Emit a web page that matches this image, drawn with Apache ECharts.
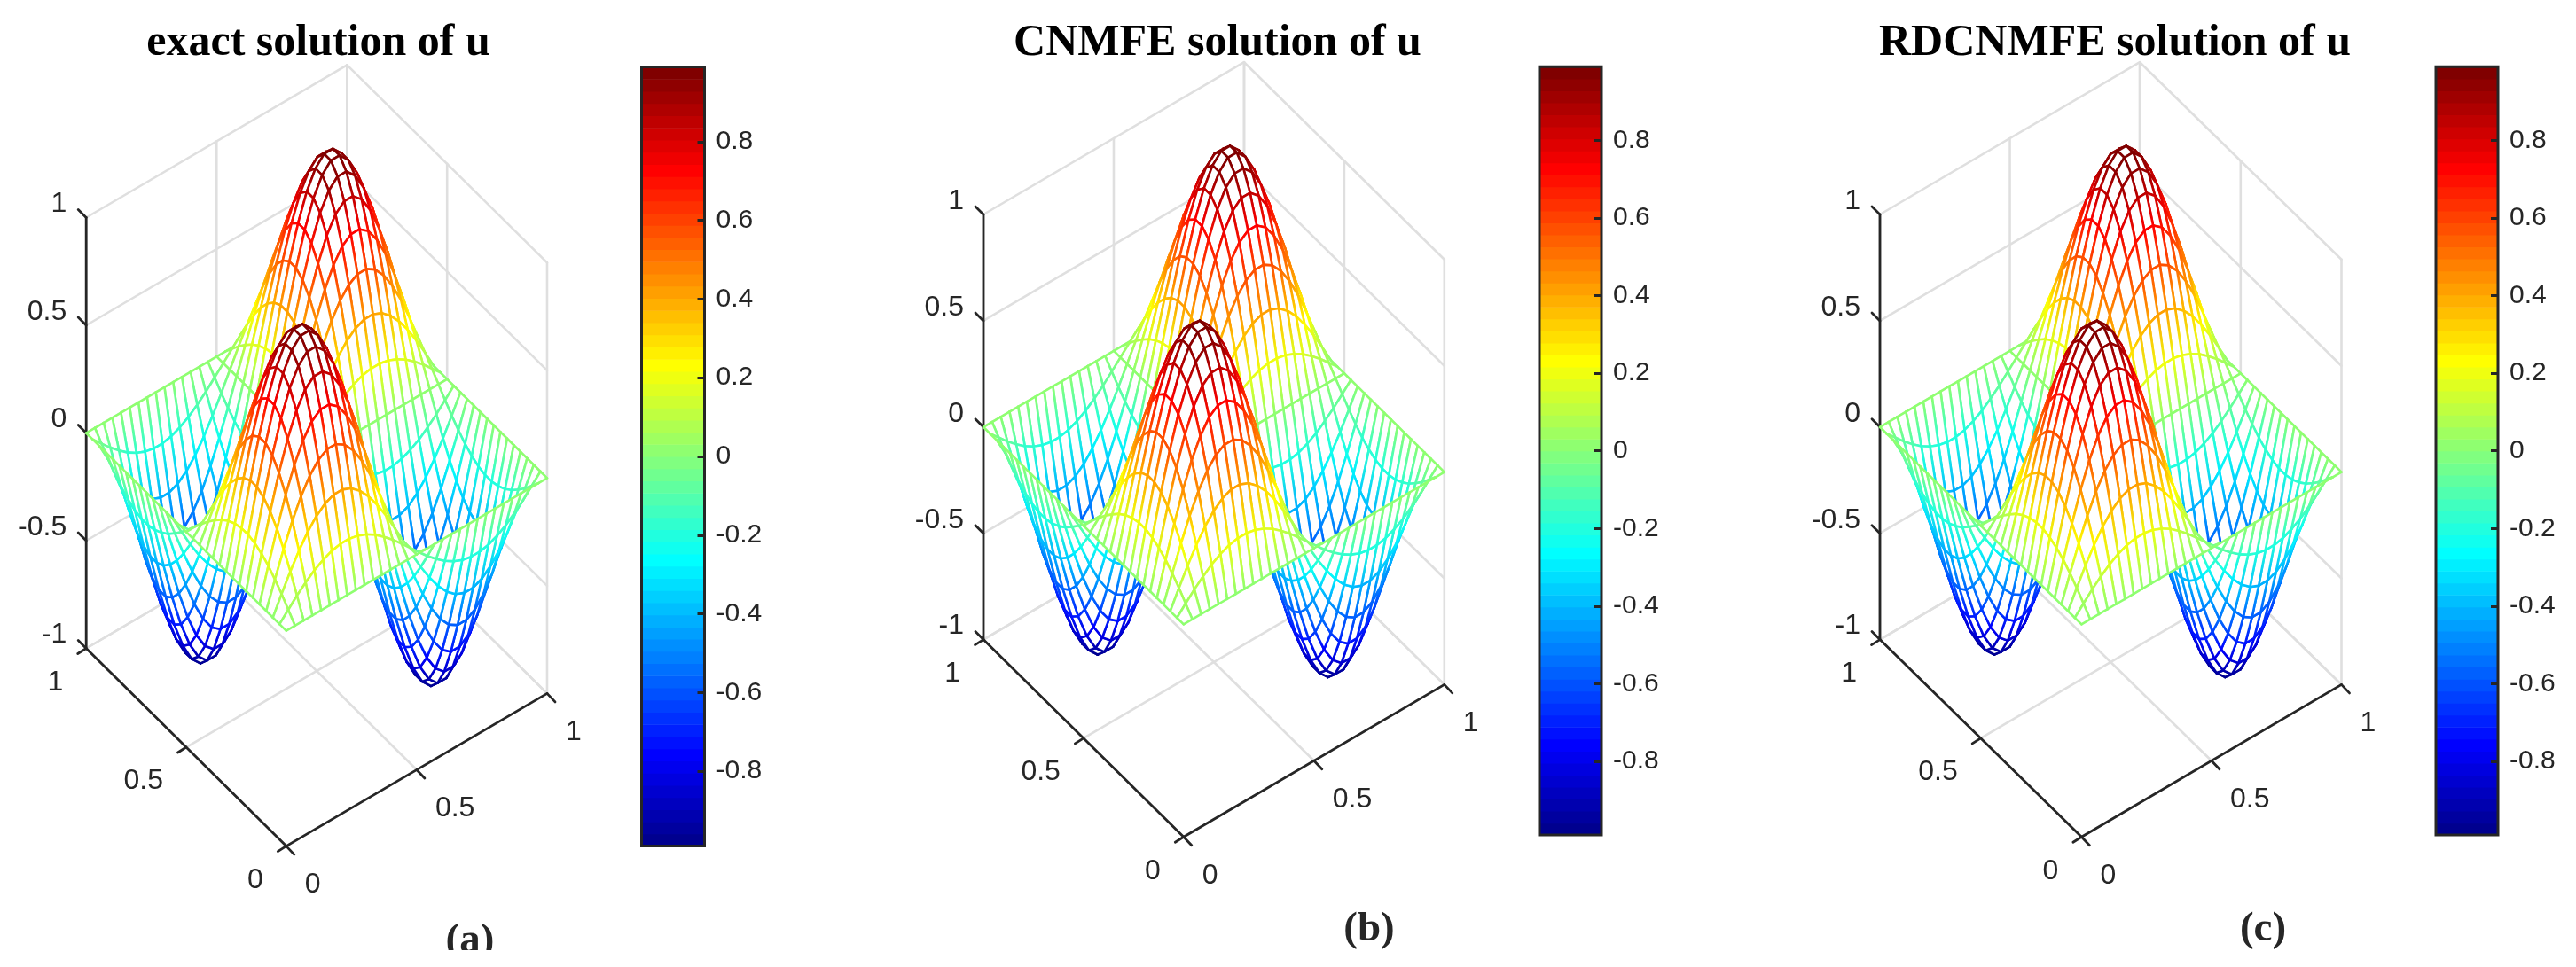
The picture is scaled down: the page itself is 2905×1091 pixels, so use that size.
<!DOCTYPE html>
<html><head><meta charset="utf-8">
<style>html,body{margin:0;padding:0;background:#fff}#c{width:2905px;height:1091px}</style>
<script src="https://cdn.jsdelivr.net/npm/echarts@6/dist/echarts.min.js"></script>
</head><body><div id="c"></div>
<script>
// ---- data ----
const meshX = [0,.0333,.0667,.1,.1333,.1667,.2,.2333,.2667,.3,.3333,.3667,.4,.4333,.4667,.5,.5333,.5667,.6,.6333,.6667,.7,.7333,.7667,.8,.8333,.8667,.9,.9333,.9667,1];
const meshY = meshX;
const r0 = [0,0,0,0,0,0,0,0,0,0,0,0,0,0,0,0,0,0,0,0,0,0,0,0,0,0,0,0,0,0,0];
const r1 = [0,.043,.085,.122,.155,.18,.198,.207,.207,.198,.18,.155,.122,.085,.043,0,-.043,-.085,-.122,-.155,-.18,-.198,-.207,-.207,-.198,-.18,-.155,-.122,-.085,-.043,0];
const r2 = [0,.085,.166,.239,.302,.352,.387,.405,.405,.387,.352,.302,.239,.166,.085,0,-.085,-.166,-.239,-.302,-.352,-.387,-.405,-.405,-.387,-.352,-.302,-.239,-.166,-.085,0];
const r3 = [0,.122,.239,.346,.437,.509,.559,.585,.585,.559,.509,.437,.346,.239,.122,0,-.122,-.239,-.346,-.437,-.509,-.559,-.585,-.585,-.559,-.509,-.437,-.346,-.239,-.122,0];
const r4 = [0,.155,.302,.437,.552,.643,.707,.739,.739,.707,.643,.552,.437,.302,.155,0,-.155,-.302,-.437,-.552,-.643,-.707,-.739,-.739,-.707,-.643,-.552,-.437,-.302,-.155,0];
const r5 = [0,.18,.352,.509,.643,.75,.824,.862,.862,.824,.75,.643,.509,.352,.18,0,-.18,-.352,-.509,-.643,-.75,-.824,-.862,-.862,-.824,-.75,-.643,-.509,-.352,-.18,0];
const r6 = [0,.198,.387,.559,.707,.824,.904,.946,.946,.904,.824,.707,.559,.387,.198,0,-.198,-.387,-.559,-.707,-.824,-.904,-.946,-.946,-.904,-.824,-.707,-.559,-.387,-.198,0];
const r7 = [0,.207,.405,.585,.739,.862,.946,.99,.99,.946,.862,.739,.585,.405,.207,0,-.207,-.405,-.585,-.739,-.862,-.946,-.99,-.99,-.946,-.862,-.739,-.585,-.405,-.207,0];
const neg = r => r.map(v => -v);
const surfaceU = [r0,r1,r2,r3,r4,r5,r6,r7,r7,r6,r5,r4,r3,r2,r1,r0,
  neg(r1),neg(r2),neg(r3),neg(r4),neg(r5),neg(r6),neg(r7),neg(r7),neg(r6),neg(r5),neg(r4),neg(r3),neg(r2),neg(r1),r0];
const xyTicks = [0,0.5,1];
const zTicks = [-1,-0.5,0,0.5,1];
const barTicks = [-0.8,-0.6,-0.4,-0.2,0,0.2,0.4,0.6,0.8];
const colorLimit = 0.99;
const titles = ['exact solution of u','CNMFE solution of u','RDCNMFE solution of u'];
const captions = ['(a)','(b)','(c)'];

// ---- layout ----
const panels = [
 {O:[322.8,954.6],ex:[294.2,-172.2],ey:[-225.6,-223.1],ez:-243,bar:[723.5,75.5,71,879],title:354,cap:525,capY:1071},
 {O:[1334.8,944.2],ex:[294,-171.8],ey:[-225.8,-222.6],ez:-239.8,bar:[1736,75.3,70,866.8],title:1368,cap:1539,capY:1058},
 {O:[2347.4,944.2],ex:[293.1,-171.8],ey:[-227.4,-222.6],ez:-239.8,bar:[2747,75.3,70,866.8],title:2380,cap:2547,capY:1058}
];
const INK='#262626', GRID='#dfdfdf', SANS='Liberation Sans', SERIF='Liberation Serif';

function jet(j){
  const t=(j+1)/64, c=v=>Math.round(255*Math.max(0,Math.min(1,v)));
  return 'rgb('+c(Math.min(4*t-1.5,-4*t+4.5))+','+c(Math.min(4*t-.5,-4*t+3.5))+','+c(Math.min(4*t+.5,-4*t+2.5))+')';
}
const jetColors = Array.from({length:64},(_,j)=>jet(j));
const colorOf = z => jetColors[Math.max(0,Math.min(63,Math.floor((z+colorLimit)/(2*colorLimit)*64)))];
const proj = (p,x,y,z)=>[p.O[0]+x*p.ex[0]+y*p.ey[0], p.O[1]+x*p.ex[1]+y*p.ey[1]+(z+1)*p.ez];

function meshSeries(p){
  const cells=[];
  for(let j=meshY.length-2;j>=0;j--)for(let i=meshX.length-2;i>=0;i--)cells.push([i,j]);
  return {type:'custom',xAxisIndex:0,yAxisIndex:0,z:3,silent:true,animation:false,progressive:0,clip:false,
    encode:{x:0,y:1},data:cells,
    renderItem(params,api){
      const i=api.value(0), j=api.value(1);
      const P=(a,b)=>api.coord(proj(p,meshX[a],meshY[b],surfaceU[b][a]));
      const a=P(i,j),b=P(i+1,j),c=P(i+1,j+1),d=P(i,j+1);
      const seg=(s,e,zs,ze)=>({type:'line',shape:{x1:s[0],y1:s[1],x2:e[0],y2:e[1]},style:{
        stroke:{type:'linear',global:true,x:s[0],y:s[1],x2:e[0],y2:e[1],colorStops:[{offset:0,color:colorOf(zs)},{offset:1,color:colorOf(ze)}]},
        lineWidth:2.6,lineCap:'round'}});
      const za=surfaceU[j][i], zb=surfaceU[j][i+1], zc=surfaceU[j+1][i+1], zd=surfaceU[j+1][i];
      return {type:'group',children:[
        {type:'polygon',shape:{points:[a,b,c,d]},style:{fill:'#fff',stroke:null}},
        seg(c,d,zc,zd), seg(b,c,zb,zc), seg(a,b,za,zb), seg(a,d,za,zd)
      ]};
    }};
}
function frameSeries(p){
  return {type:'custom',xAxisIndex:0,yAxisIndex:0,z:2,silent:true,animation:false,clip:false,
    encode:{x:0,y:1},data:[[0,0]],
    renderItem(params,api){
      const c=(x,y,z)=>api.coord(proj(p,x,y,z));
      const L=(s,e,col,w)=>({type:'line',shape:{x1:s[0],y1:s[1],x2:e[0],y2:e[1]},style:{stroke:col,lineWidth:w,lineCap:'round'}});
      const T=(txt,x,y,al)=>({type:'text',style:{text:txt,x:x,y:y,fill:INK,fontFamily:SANS,fontSize:32,align:al,verticalAlign:'middle'}});
      const kids=[];
      xyTicks.forEach(v=>{
        kids.push(L(c(v,0,-1),c(v,1,-1),GRID,2.6));
        kids.push(L(c(0,v,-1),c(1,v,-1),GRID,2.6));
        kids.push(L(c(v,1,-1),c(v,1,1),GRID,2.6));
        kids.push(L(c(1,v,-1),c(1,v,1),GRID,2.6));
      });
      zTicks.forEach(z=>{
        kids.push(L(c(0,1,z),c(1,1,z),GRID,2.6));
        kids.push(L(c(1,1,z),c(1,0,z),GRID,2.6));
      });
      kids.push(L(c(0,0,-1),c(1,0,-1),INK,2.8));
      kids.push(L(c(0,0,-1),c(0,1,-1),INK,2.8));
      kids.push(L(c(0,1,-1),c(0,1,1),INK,2.8));
      xyTicks.forEach(v=>{
        const a=c(v,0,-1);
        kids.push(L(a,[a[0]+9,a[1]+9.5],INK,2.8));
        kids.push(T(String(v),a[0]+21,a[1]+44,'left'));
        const b=c(0,v,-1);
        kids.push(L(b,[b[0]-9.5,b[1]+6],INK,2.8));
        kids.push(T(String(v),b[0]-26,b[1]+38.5,'right'));
      });
      zTicks.forEach(z=>{
        const a=c(0,1,z);
        kids.push(L(a,[a[0]-9,a[1]-9],INK,2.8));
        kids.push(T(String(z),a[0]-22,a[1]-15,'right'));
      });
      return {type:'group',children:kids};
    }};
}
function barSeries(k){
  const bands=jetColors.map((col,j)=>[j]);
  return {type:'custom',xAxisIndex:k+1,yAxisIndex:k+1,z:2,silent:true,animation:false,
    encode:{y:0},data:bands,
    renderItem(params,api){
      const j=api.value(0), step=2*colorLimit/64;
      const a=api.coord([0,-colorLimit+j*step]), b=api.coord([1,-colorLimit+(j+1)*step]);
      return {type:'rect',shape:{x:a[0],y:b[1],width:b[0]-a[0],height:a[1]-b[1]+.6},style:{fill:jetColors[j]}};
    }};
}

const option={
  backgroundColor:'#fff',animation:false,
  title:[
    ...panels.map((p,k)=>({text:titles[k],left:p.title,top:19,textAlign:'center',textStyle:{fontFamily:SERIF,fontWeight:'bold',fontSize:50,color:'#000'}})),
    ...panels.map((p,k)=>({text:captions[k],left:p.cap,top:p.capY-38,textAlign:'center',textStyle:{fontFamily:SERIF,fontWeight:'bold',fontSize:47,color:INK}}))
  ],
  graphic:[{type:'rect',z:100,silent:true,shape:{x:0,y:1072,width:1000,height:19},style:{fill:'#fff'}}],
  grid:[{left:0,top:0,width:2905,height:1091,show:false},
    ...panels.map(p=>({left:p.bar[0],top:p.bar[1],width:p.bar[2],height:p.bar[3],show:true,z:5,borderColor:INK,borderWidth:3,backgroundColor:'transparent'}))],
  xAxis:[{type:'value',gridIndex:0,min:0,max:2905,show:false},
    ...panels.map((p,k)=>({type:'value',gridIndex:k+1,min:0,max:1,show:false}))],
  yAxis:[{type:'value',gridIndex:0,min:0,max:1091,inverse:true,show:false},
    ...panels.map((p,k)=>({type:'value',gridIndex:k+1,min:-colorLimit,max:colorLimit,position:'right',z:6,
      splitLine:{show:false},
      axisLine:{show:false,onZero:false},
      axisTick:{show:true,inside:true,length:8,lineStyle:{color:INK,width:3},customValues:barTicks},
      axisLabel:{show:true,margin:13,color:INK,fontFamily:SANS,fontSize:30,customValues:barTicks,formatter:v=>String(+(+v).toFixed(1))}}))],
  series:[...panels.map(frameSeries),...panels.map(meshSeries),...panels.map((p,k)=>barSeries(k))]
};
const chart=echarts.init(document.getElementById('c'),null,{renderer:'canvas'});
chart.setOption(option);
</script></body></html>
